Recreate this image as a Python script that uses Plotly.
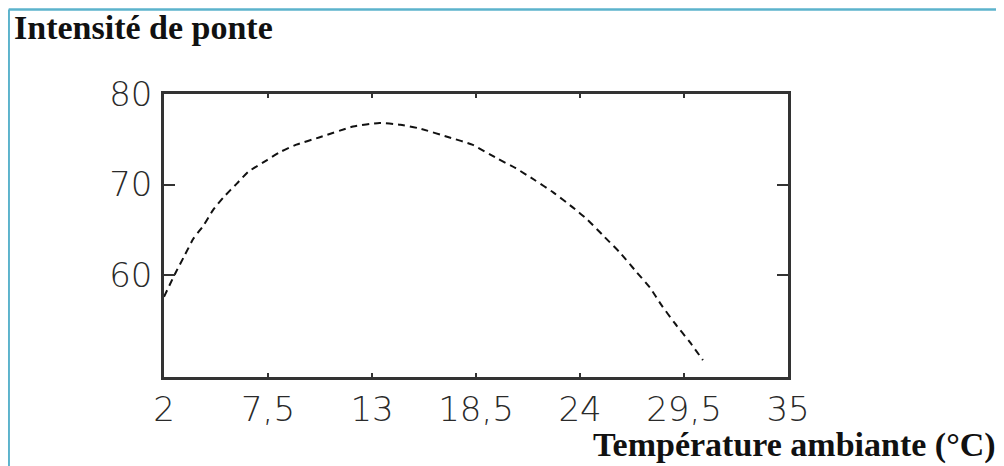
import plotly.graph_objects as go

# Data
temperature = [2.0, 2.6, 3.1, 3.55, 4.1, 4.6, 5.15, 5.85, 6.45, 7.45, 8.15, 9.0, 10.2, 12.0,
               13.4, 14.5, 15.5, 17.1, 18.3, 19.6, 20.6, 21.6, 22.6, 23.6, 24.4, 25.3,
               26.1, 27.0, 27.7, 28.3, 29.0, 29.8, 30.5]
intensite = [57.6, 60.2, 62.2, 64.0, 65.5, 67.2, 68.6, 70.1, 71.4, 72.7, 73.6, 74.4, 75.2, 76.4,
             76.8, 76.6, 76.2, 75.2, 74.4, 72.9, 71.8, 70.5, 69.1, 67.5, 66.1, 64.2,
             62.5, 60.3, 58.6, 56.7, 54.7, 52.6, 50.6]

x_tickvals = [2, 7.5, 13, 18.5, 24, 29.5, 35]
x_ticktext = ["2", "7,5", "13", "18,5", "24", "29,5", "35"]
y_tickvals = [60, 70, 80]
y_ticktext = ["60", "70", "80"]

OFF = 8  # page body margin
W, H = 1004 - OFF, 466 - OFF
L, R, T, B = 164 - OFF, 788 - OFF, 94 - OFF, 377 - OFF
pw, ph = R - L, B - T


def px(x):
    return (x - OFF - L) / pw


def py(y):
    return (B - (y - OFF)) / ph


fig = go.Figure()
fig.add_trace(go.Scatter(
    x=temperature, y=intensite, mode="lines",
    line=dict(color="#111111", width=2, dash="7px,5px", shape="spline", smoothing=0.5),
    showlegend=False, hoverinfo="skip"))

axis_common = dict(
    showgrid=False, zeroline=False, showline=True, linecolor="#333333", linewidth=2.5,
    mirror="ticks", ticks="inside", tickcolor="#333333", tickwidth=2,
    tickfont=dict(family="DejaVu Sans", size=34, color="#2a2a2a", weight=300),
)

fig.update_xaxes(range=[2, 35], tickmode="array", tickvals=x_tickvals, ticktext=x_ticktext,
                 ticklen=4, ticklabelstandoff=0, **axis_common)
fig.update_yaxes(range=[48.73, 80], tickmode="array", tickvals=y_tickvals, ticktext=y_ticktext,
                 ticklen=11, ticklabelstandoff=2, **axis_common)

serif = dict(family="Liberation Serif", size=34, color="#111111")
fig.add_annotation(text="<b>Intensité de ponte</b>", xref="paper", yref="paper",
                   x=px(12), y=py(28), xanchor="left", yanchor="middle", showarrow=False, font=serif)
fig.add_annotation(text="<b>Température ambiante (°C)</b>", xref="paper", yref="paper",
                   x=px(998), y=py(445), xanchor="right", yanchor="middle", showarrow=False, font=serif)

border = "#5cb3cc"
fig.add_shape(type="line", xref="paper", yref="paper", x0=px(8.7), y0=py(9.5), x1=px(1004), y1=py(9.5),
              line=dict(color=border, width=2.5))
fig.add_shape(type="line", xref="paper", yref="paper", x0=px(8.7), y0=py(9.5), x1=px(8.7), y1=py(466),
              line=dict(color=border, width=2.5))

fig.update_layout(
    width=W, height=H, autosize=False,
    margin=dict(l=L, r=W - R, t=T, b=H - B, pad=0),
    plot_bgcolor="white", paper_bgcolor="white",
)

fig.write_html("out.html")
